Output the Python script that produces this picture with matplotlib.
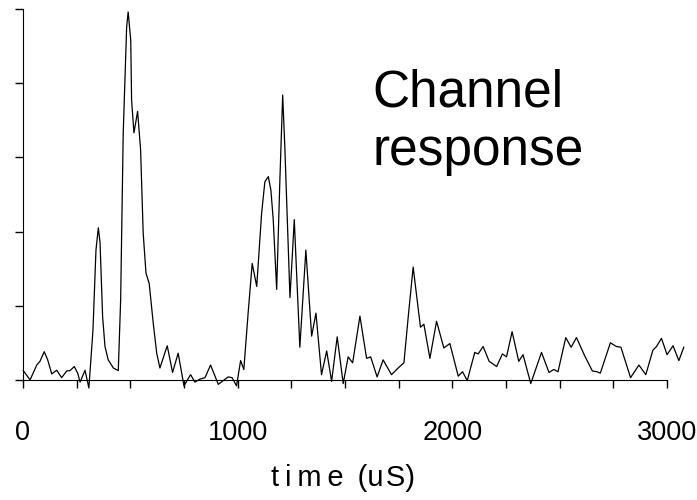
import numpy as np
import matplotlib.pyplot as plt
from matplotlib.ticker import FixedLocator

plt.rcParams['font.family'] = ['Liberation Sans', 'DejaVu Sans']

# channel response (time in uS, response in axis units 0..5)
time_us = [1, 33, 64, 79, 99, 115, 134, 157, 180, 204, 219, 239, 255, 266, 289,
           307, 326, 340, 351, 359, 371, 382, 397, 421, 444, 455, 467, 483, 490,
           502, 506, 517, 534, 548, 560, 573, 588, 607, 623, 638, 672, 697, 723,
           750, 781, 801, 824, 848, 874, 910, 956, 974, 995, 1014, 1029, 1049,
           1068, 1089, 1112, 1127, 1143, 1155, 1166, 1182, 1197, 1210, 1220,
           1244, 1264, 1290, 1318, 1345, 1365, 1391, 1415, 1438, 1464, 1492,
           1515, 1536, 1570, 1601, 1620, 1650, 1678, 1717, 1748, 1775, 1795,
           1818, 1852, 1868, 1896, 1927, 1961, 1989, 2028, 2048, 2070, 2105,
           2121, 2144, 2172, 2207, 2234, 2253, 2279, 2310, 2330, 2366, 2416,
           2451, 2473, 2493, 2529, 2554, 2579, 2618, 2653, 2674, 2690, 2737,
           2765, 2786, 2831, 2870, 2902, 2935, 2952, 2975, 3001, 3029, 3056, 3079]
response = [0.125, 0.0, 0.20, 0.25, 0.38, 0.27, 0.08, 0.13, 0.03, 0.12, 0.125,
            0.18, 0.09, -0.03, 0.13, -0.11, 0.67, 1.75, 2.05, 1.85, 0.85, 0.45,
            0.27, 0.16, 0.125, 1.08, 3.33, 4.76, 4.96, 4.58, 3.77, 3.33, 3.62,
            3.10, 1.98, 1.44, 1.30, 0.76, 0.36, 0.16, 0.46, 0.10, 0.36, -0.08,
            0.07, -0.03, 0.01, 0.03, 0.20, -0.06, 0.04, 0.03, -0.08, 0.26, 0.14,
            0.90, 1.57, 1.26, 2.25, 2.67, 2.74, 2.56, 2.16, 1.22, 2.70, 3.84,
            3.14, 1.11, 2.16, 0.44, 1.75, 0.59, 0.90, 0.07, 0.39, -0.02, 0.58,
            -0.05, 0.31, 0.23, 0.86, 0.29, 0.31, 0.04, 0.27, 0.07, 0.16, 0.23,
            0.85, 1.52, 0.71, 0.75, 0.29, 0.79, 0.43, 0.49, 0.05, 0.11, -0.01,
            0.37, 0.35, 0.45, 0.25, 0.18, 0.35, 0.31, 0.65, 0.25, 0.34, -0.05,
            0.37, 0.10, 0.14, 0.11, 0.57, 0.44, 0.57, 0.32, 0.12, 0.11, 0.09,
            0.50, 0.45, 0.44, 0.03, 0.20, 0.07, 0.40, 0.45, 0.56, 0.34, 0.46,
            0.26, 0.44]

major_x = [0, 1000, 2000, 3000]
minor_x = [250, 500, 750, 1250, 1500, 1750, 2250, 2500, 2750]
y_ticks = [0, 1, 2, 3, 4, 5]

fig = plt.figure(figsize=(6.97, 5), dpi=100)
ax = fig.add_axes([23/697, 0.218, 661/697, 0.764])

ax.plot(time_us, response, color='black', lw=0.9, clip_on=False)

ax.set_xlim(0, 3080)
ax.set_ylim(-0.15, 5.0)

for s in ['top', 'right']:
    ax.spines[s].set_visible(False)
ax.spines['bottom'].set_position(('data', 0))
ax.spines['bottom'].set_bounds(0, 3000)
ax.spines['left'].set_bounds(0, 5)
ax.spines['left'].set_position(('data', 0))

ax.xaxis.set_major_locator(FixedLocator(major_x))
ax.xaxis.set_minor_locator(FixedLocator(minor_x))
ax.set_xticklabels([str(v) for v in major_x])
ax.set_yticks(y_ticks)
ax.set_yticklabels([])
ax.tick_params(axis='x', which='both', direction='out', length=6, width=1)
ax.tick_params(axis='x', which='major', labelsize=19.5, pad=23)
ax.tick_params(axis='y', direction='out', length=6, width=1)

# letter-spaced axis title
fig.text(343/697, 1 - 478/500, 't\u2009i\u2009m\u2009e\u2009 (u\u200aS)',
         ha='center', va='center', fontsize=21)
fig.text(372/697, 1 - 165/500, 'Channel\nresponse', ha='left', va='baseline',
         fontsize=37, linespacing=1.26)

fig.savefig('out.png', dpi=100)
